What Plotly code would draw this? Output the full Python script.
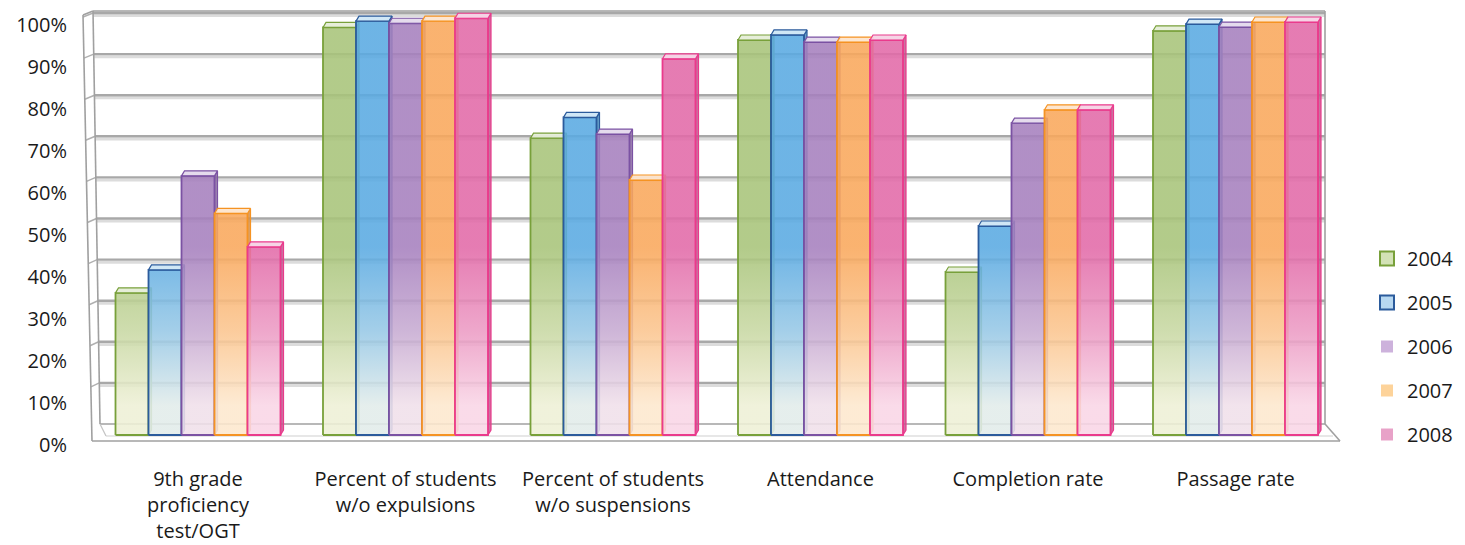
import plotly.graph_objects as go

# ---- data -------------------------------------------------------------
categories = [
    "9th grade<br>proficiency<br>test/OGT",
    "Percent of students<br>w/o expulsions",
    "Percent of students<br>w/o suspensions",
    "Attendance",
    "Completion rate",
    "Passage rate",
]
years = ["2004", "2005", "2006", "2007", "2008"]
v2004 = [34, 97.5, 71, 94.5, 39, 96.7]
v2005 = [39.5, 99, 76, 95.7, 50, 98.3]
v2006 = [62, 98.5, 72, 94, 74.6, 97.6]
v2007 = [53, 99, 61, 94, 77.8, 98.8]
v2008 = [45, 99.7, 90, 94.5, 77.8, 98.8]
series_values = [v2004, v2005, v2006, v2007, v2008]
y_ticks = list(range(0, 101, 10))

# ---- styling ----------------------------------------------------------
FONT = "Open Sans"
TEXT = "#1a1a1a"
# (saturated top colour, pale bottom colour, outline colour)
palette = [
    ((168, 196, 122), (238, 240, 214), "#78a03a"),
    ((90, 170, 226), (226, 236, 234), "#2b5b9c"),
    ((166, 128, 190), (240, 224, 234), "#7b52a3"),
    ((249, 168, 92), (253, 232, 206), "#f59323"),
    ((226, 106, 168), (249, 214, 230), "#ea3a8c"),
]
legend_style = [
    dict(color="#d3e2b6", size=14, line=dict(color="#78a03a", width=2)),
    dict(color="#b7d8f1", size=14, line=dict(color="#2b5b9c", width=2)),
    dict(color="#cdb2dc", size=12, line=dict(width=0)),
    dict(color="#fdd39a", size=12, line=dict(width=0)),
    dict(color="#e8a2c8", size=12, line=dict(width=0)),
]

W, H = 1465, 545
L, R, T, B = 80, 1345, 10, 446          # plot area in pixels
C0, STEP = 198.0, 207.5                  # first category centre, category pitch (px)

# vertical pixel scales: bar faces, back-wall grid, front tick labels
BAR_Y0, BAR_K = 435.0, 4.18
WALL_Y0, WALL_K = 424.0, 4.11
LAB_Y0, LAB_K = 445.0, 4.20


def yrange(y0, k):
    return [(y0 - B) / k, (y0 - T) / k]


def xp(px):
    return (px - L) / (R - L)


def yp(py):
    return (B - py) / (B - T)


BAR_W = 33.0 / STEP
GROUP_W = 5 * BAR_W
DX = 3.0 / STEP
DY = 5.0 / BAR_K


def rgba(c, a):
    return f"rgba({c[0]},{c[1]},{c[2]},{a})"


def mix(c, other, t):
    return tuple(round(c[i] * (1 - t) + other[i] * t) for i in range(3))


fig = go.Figure()

for k, vals in enumerate(series_values):
    top, pale, edge = palette[k]
    fx, fy, sx, sy, tx, ty = [], [], [], [], [], []
    for i, v in enumerate(vals):
        x0 = i - GROUP_W / 2 + k * BAR_W
        x1 = x0 + BAR_W
        fx += [x0, x1, x1, x0, x0, None]
        fy += [0, 0, v, v, 0, None]
        sx += [x1, x1 + DX, x1 + DX, x1, x1, None]
        sy += [0, DY, v + DY, v, 0, None]
        tx += [x0, x1, x1 + DX, x0 + DX, x0, None]
        ty += [v, v, v + DY, v + DY, v, None]

    # right side faces
    fig.add_trace(go.Scatter(
        x=sx, y=sy, mode="lines", fill="toself",
        fillcolor=rgba(mix(top, (0, 0, 0), 0.15), 0.85),
        line=dict(color=edge, width=1.2),
        hoverinfo="skip", showlegend=False,
    ))
    # front faces, fading towards the floor
    fig.add_trace(go.Scatter(
        x=fx, y=fy, mode="lines", fill="toself",
        fillgradient=dict(
            type="vertical", start=0, stop=100,
            colorscale=[
                [0.0, rgba(pale, 0.88)],
                [0.07, rgba(pale, 0.88)],
                [0.25, rgba(mix(top, pale, 0.45), 0.88)],
                [0.45, rgba(top, 0.88)],
                [1.0, rgba(top, 0.88)],
            ],
        ),
        line=dict(color=edge, width=1.8),
        hoverinfo="skip", showlegend=False,
    ))
    # top faces
    fig.add_trace(go.Scatter(
        x=tx, y=ty, mode="lines", fill="toself",
        fillcolor=rgba(mix(top, (255, 255, 255), 0.7), 0.95),
        line=dict(color=edge, width=1.2),
        hoverinfo="skip", showlegend=False,
    ))

# legend entries
for k, name in enumerate(years):
    fig.add_trace(go.Scatter(
        x=[None], y=[None], mode="markers", name=name,
        legendgroup=name,
        marker=dict(symbol="square", **legend_style[k]),
    ))

# axes carrying the back-wall grid and the tick labels
fig.add_trace(go.Scatter(x=[None], y=[None], yaxis="y2", showlegend=False, hoverinfo="skip"))
fig.add_trace(go.Scatter(x=[None], y=[None], yaxis="y3", showlegend=False, hoverinfo="skip"))

# ---- 3-D frame: walls, floor and grid ---------------------------------
shapes = []
GRAY = "#a0a0a0"


def seg(p, q, color=GRAY, width=1.6):
    shapes.append(dict(
        type="line", xref="paper", yref="paper", layer="below",
        x0=xp(p[0]), y0=yp(p[1]), x1=xp(q[0]), y1=yp(q[1]),
        line=dict(color=color, width=width),
    ))


def inner_x(py):
    return 93 + (py - 11) * 7 / 413


def outer_x(py):
    return 83 + (py - 15) * 9 / 426


for v in y_ticks[1:]:
    py = WALL_Y0 - WALL_K * v
    shapes.append(dict(
        type="line", xref="paper", yref="y2", layer="below",
        x0=xp(inner_x(py)), x1=xp(1325), y0=v - 2.6 / WALL_K, y1=v - 2.6 / WALL_K,
        line=dict(color="#dcdcdc", width=3),
    ))
    shapes.append(dict(
        type="line", xref="paper", yref="y2", layer="below",
        x0=xp(inner_x(py)), x1=xp(1325), y0=v, y1=v,
        line=dict(color="#a8a8a8", width=2.4),
    ))
    seg((inner_x(py), py), (outer_x(py + 4), py + 4), "#b0b0b0", 1.5)

seg((93, 11), (1325, 11))
seg((83, 15), (93, 11))
seg((83, 15), (92, 441))
seg((93, 11), (100, 424))
seg((100, 424), (1325, 424))
seg((1325, 11), (1325, 424))
seg((92, 441), (1340, 441))
seg((1325, 424), (1340, 441))
seg((100, 424), (106, 436), "#c4c4c4", 1.2)
seg((106, 436), (1333, 436), "#d0d0d0", 1.2)

fig.update_layout(
    width=W, height=H,
    margin=dict(l=L, r=W - R, t=T, b=H - B, pad=0, autoexpand=False),
    paper_bgcolor="white", plot_bgcolor="white",
    font=dict(family=FONT, size=20, color=TEXT),
    shapes=shapes,
    showlegend=True,
    legend=dict(
        x=xp(1367), y=yp(239), xanchor="left", yanchor="top",
        font=dict(family=FONT, size=20, color=TEXT),
        tracegroupgap=15, itemwidth=30, bgcolor="rgba(0,0,0,0)",
    ),
    xaxis=dict(
        range=[(L - C0) / STEP, (R - C0) / STEP],
        tickmode="array", tickvals=list(range(len(categories))), ticktext=categories,
        showgrid=False, zeroline=False, showline=False, ticks="",
        tickfont=dict(family=FONT, size=20, color=TEXT),
        ticklabelstandoff=19, fixedrange=True, automargin=False,
    ),
    yaxis=dict(
        range=yrange(BAR_Y0, BAR_K), showgrid=False, zeroline=False,
        showticklabels=False, showline=False, fixedrange=True, automargin=False,
    ),
    yaxis2=dict(
        range=yrange(WALL_Y0, WALL_K), overlaying="y", side="left",
        visible=False, fixedrange=True, automargin=False,
    ),
    yaxis3=dict(
        range=yrange(LAB_Y0, LAB_K), overlaying="y", side="left", anchor="x",
        tickmode="array", tickvals=y_ticks, ticktext=[f"{t}%" for t in y_ticks],
        showgrid=False, zeroline=False, showline=False, ticks="",
        tickfont=dict(family=FONT, size=20, color=TEXT),
        ticklabelstandoff=12, fixedrange=True, automargin=False,
    ),
)

fig.write_html("out.html")
